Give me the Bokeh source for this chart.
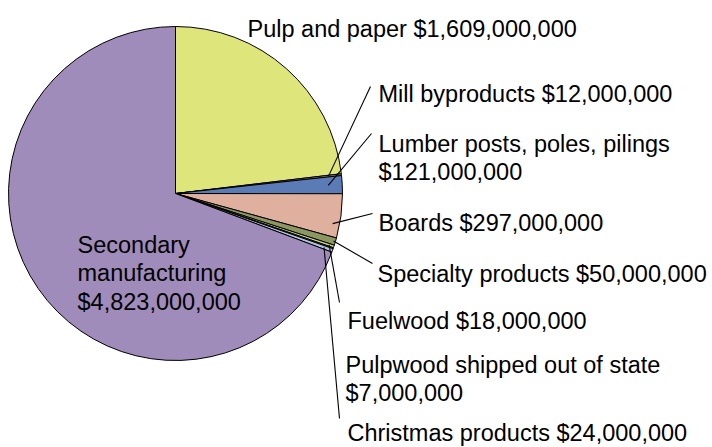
import math
from bokeh.plotting import figure
from bokeh.models import Range1d
from bokeh.core.properties import value
from bokeh.embed import file_html
from bokeh.resources import INLINE

# ---- data ----
categories = ["Pulp and paper", "Mill byproducts", "Lumber posts, poles, pilings", "Boards",
              "Specialty products", "Fuelwood", "Pulpwood shipped out of state",
              "Christmas products", "Secondary manufacturing"]
values_usd = [1609000000, 12000000, 121000000, 297000000, 50000000, 18000000,
              7000000, 24000000, 4823000000]
colors = ["#dee57a", "#9b8883", "#5b7bb7", "#dfb09e", "#8c9660", "#c8d67c",
          "#8f95a3", "#aebfe2", "#a08cba"]

# label text lines for each category
label_lines = [
    ["Pulp and paper $1,609,000,000"],
    ["Mill byproducts $12,000,000"],
    ["Lumber posts, poles, pilings", "$121,000,000"],
    ["Boards $297,000,000"],
    ["Specialty products $50,000,000"],
    ["Fuelwood $18,000,000"],
    ["Pulpwood shipped out of state", "$7,000,000"],
    ["Christmas products $24,000,000"],
    ["Secondary", "manufacturing", "$4,823,000,000"],
]

# ---- layout (page pixels) ----
W, H = 712, 447
CX, CY, R = 175, 193, 167
FONT = "Liberation Sans"
FSIZE = "23.5px"
LINE_H = 28.5
label_xy = [(247, 28), (378, 93), (378, 143), (378, 222), (377, 273),
            (347, 320), (345, 364), (347, 432), (77, 244)]
# leader: (fraction within slice, radius, end x, end y) or None
leaders = [None, (0.5, 154, 370, 86), (0.5, 153, 371, 133), (0.7, 160, 372, 213),
           (0.5, 165, 372, 263), (0.5, 162, 339, 302), None, (0.5, 158, 339, 418), None]


def py(yp):
    return H - yp


p = figure(width=W, height=H, output_backend="svg", toolbar_location=None,
           x_range=Range1d(0, W), y_range=Range1d(0, H), min_border=0)
p.axis.visible = False
p.grid.visible = False
p.outline_line_color = None
p.background_fill_color = None
p.border_fill_color = None

total = sum(values_usd)
cum = 0.0
starts, ends, fracs_start = [], [], []
for v in values_usd:
    f0 = cum / total
    cum += v
    f1 = cum / total
    fracs_start.append(f0)
    starts.append(math.pi / 2 - 2 * math.pi * f0)
    ends.append(math.pi / 2 - 2 * math.pi * f1)

p.wedge(x=CX, y=py(CY), radius=R, start_angle=starts, end_angle=ends,
        direction="clock", fill_color=colors, line_color="black", line_width=1)

# leader lines
x0s, y0s, x1s, y1s = [], [], [], []
for i, ld in enumerate(leaders):
    if ld is None:
        continue
    frac, rr, ex, ey = ld
    f = fracs_start[i] + frac * values_usd[i] / total
    th = 2 * math.pi * f
    sx = CX + rr * math.sin(th)
    sy = CY - rr * math.cos(th)
    x0s.append(sx); y0s.append(py(sy)); x1s.append(ex); y1s.append(py(ey))
p.segment(x0=x0s, y0=y0s, x1=x1s, y1=y1s, line_color="black", line_width=1.1)

# labels
tx, ty, tt = [], [], []
for (lx, ly), lines in zip(label_xy, label_lines):
    for k, s in enumerate(lines):
        tx.append(lx); ty.append(py(ly + k * LINE_H)); tt.append(s)
p.text(x=tx, y=ty, text=tt, text_font=value(FONT), text_font_size=FSIZE,
       text_baseline="alphabetic", text_align="left", text_color="black")

open("out.html", "w").write(file_html(p, INLINE))
